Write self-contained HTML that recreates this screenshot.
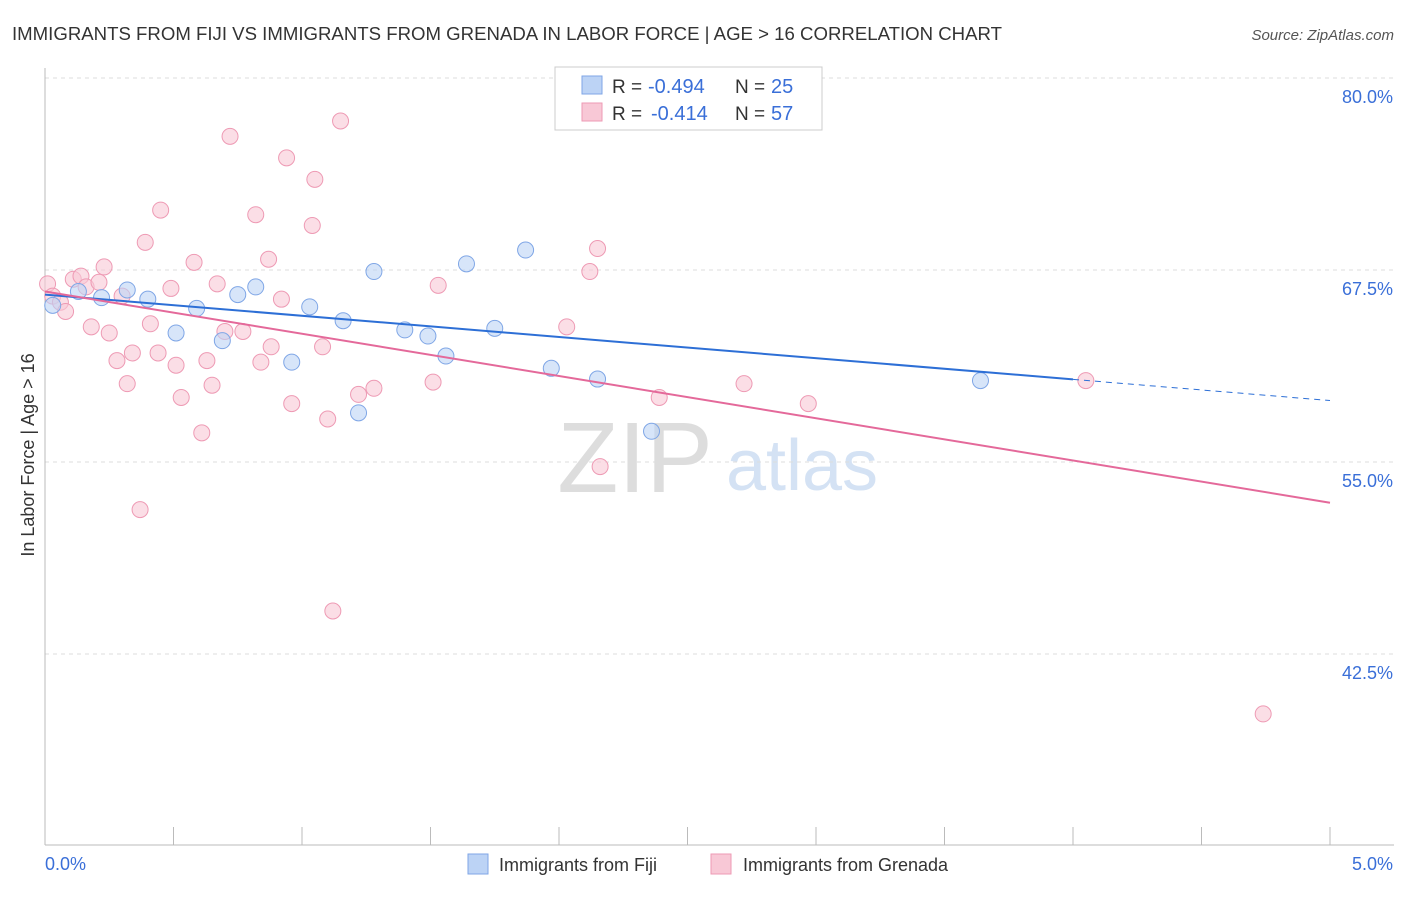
<!DOCTYPE html>
<html><head><meta charset="utf-8"><style>
body{margin:0;background:#fff;font-family:"Liberation Sans",sans-serif;}
svg text{font-family:"Liberation Sans",sans-serif;}
</style></head><body>
<svg id="chart" width="1406" height="892" xmlns="http://www.w3.org/2000/svg">
<text x="12" y="40" font-size="18" fill="#333" textLength="990" lengthAdjust="spacingAndGlyphs">IMMIGRANTS FROM FIJI VS IMMIGRANTS FROM GRENADA IN LABOR FORCE | AGE &gt; 16 CORRELATION CHART</text>
<text x="1394" y="40" font-size="15" fill="#555" font-style="italic" text-anchor="end">Source: ZipAtlas.com</text>
<text x="635" y="492" font-size="100" fill="#ddd" font-family="Liberation Serif,serif" text-anchor="middle">ZIP</text>
<text x="802" y="490" font-size="72" fill="#d4e2f4" text-anchor="middle">atlas</text>
<g id="grid"></g><g id="axes"></g><g id="marks"></g>
<text transform="translate(34,455) rotate(-90)" font-size="18" fill="#333" text-anchor="middle">In Labor Force | Age &gt; 16</text>
<text x="45" y="870" font-size="18" fill="#3a6fd8">0.0%</text>
<text x="1393" y="870" font-size="18" fill="#3a6fd8" text-anchor="end">5.0%</text>
<g>
<rect x="555" y="67" width="267" height="63" fill="#fff" stroke="#ccc"/>
<rect x="582" y="76" width="20" height="18" fill="#bcd3f5" stroke="#7fa6e6"/>
<text x="612" y="93" font-size="19" fill="#333">R =</text>
<text x="648" y="93" font-size="20" fill="#3a6fd8">-0.494</text>
<text x="735" y="93" font-size="19" fill="#333">N =</text>
<text x="771" y="93" font-size="20" fill="#3a6fd8">25</text>
<rect x="582" y="103" width="20" height="18" fill="#f8c8d6" stroke="#ee9ab4"/>
<text x="612" y="120" font-size="19" fill="#333">R =</text>
<text x="651" y="120" font-size="20" fill="#3a6fd8">-0.414</text>
<text x="735" y="120" font-size="19" fill="#333">N =</text>
<text x="771" y="120" font-size="20" fill="#3a6fd8">57</text>
</g>
<g>
<rect x="468" y="854" width="20" height="20" fill="#bcd3f5" stroke="#7fa6e6"/>
<text x="499" y="871" font-size="18" fill="#333">Immigrants from Fiji</text>
<rect x="711" y="854" width="20" height="20" fill="#f8c8d6" stroke="#ee9ab4"/>
<text x="743" y="871" font-size="18" fill="#333">Immigrants from Grenada</text>
</g>
</svg>
<script>
const yTicks=[80,67.5,55,42.5];
const xTicks=[0,0.5,1,1.5,2,2.5,3,3.5,4,4.5,5];
const fijiX=[0.03,0.13,0.22,0.32,0.40,0.51,0.59,0.69,0.75,0.82,0.96,1.03,1.16,1.22,1.28,1.40,1.49,1.56,1.64,1.75,1.87,1.97,2.15,2.36,3.64];
const fijiY=[65.2,66.1,65.7,66.2,65.6,63.4,65.0,62.9,65.9,66.4,61.5,65.1,64.2,58.2,67.4,63.6,63.2,61.9,67.9,63.7,68.8,61.1,60.4,57.0,60.3];
const grenX=[0.01,0.03,0.06,0.08,0.11,0.14,0.16,0.18,0.21,0.23,0.25,0.28,0.30,0.32,0.34,0.37,0.39,0.41,0.44,0.45,0.49,0.51,0.53,0.58,0.61,0.63,0.65,0.67,0.70,0.72,0.77,0.82,0.84,0.87,0.88,0.92,0.94,0.96,1.04,1.05,1.08,1.10,1.12,1.15,1.22,1.28,1.51,1.53,2.03,2.12,2.15,2.16,2.39,2.72,2.97,4.05,4.74];
const grenY=[66.6,65.8,65.4,64.8,66.9,67.1,66.4,63.8,66.7,67.7,63.4,61.6,65.8,60.1,62.1,51.9,69.3,64.0,62.1,71.4,66.3,61.3,59.2,68.0,56.9,61.6,60.0,66.6,63.5,76.2,63.5,71.1,61.5,68.2,62.5,65.6,74.8,58.8,70.4,73.4,62.5,57.8,45.3,77.2,59.4,59.8,60.2,66.5,63.8,67.4,68.9,54.7,59.2,60.1,58.8,60.3,38.6];
const fijiFit=[65.9,-1.38];
const grenFit=[66.1,-2.75];
const X=v=>45+v*257, Y=v=>78+(80-v)*15.36;
const NS="http://www.w3.org/2000/svg";
function mk(tag,attrs,parent){const e=document.createElementNS(NS,tag);for(const k in attrs)e.setAttribute(k,attrs[k]);document.getElementById(parent).appendChild(e);return e;}
yTicks.forEach(t=>{
 const l=mk('line',{x1:45,x2:1394,y1:Y(t),y2:Y(t),stroke:'#ddd','stroke-dasharray':'4,4'},'grid');
 
 
 const tx=mk('text',{x:1393,y:Y(t)+25,'font-size':18,fill:'#3a6fd8','text-anchor':'end'},'grid');tx.textContent=t.toFixed(1)+'%';
 
 
});
const ax=mk('line',{x1:45,x2:1394,y1:845,y2:845,stroke:'#bbb'},'axes');


const ay=mk('line',{x1:45,x2:45,y1:68,y2:845,stroke:'#bbb'},'axes');


xTicks.forEach(t=>{const l=mk('line',{x1:X(t),x2:X(t),y1:827,y2:845,stroke:'#bbb'},'axes');
 
 });
function dots(xs,ys,fill,stroke,name){xs.forEach((x,i)=>{const c=mk('circle',{cx:X(x),cy:Y(ys[i]),r:8,fill:fill,'fill-opacity':0.6,stroke:stroke,'stroke-width':1},'marks');
 
 });}
dots(grenX,grenY,'#f8c8d6','#ee9ab4','grenada-point');
dots(fijiX,fijiY,'#bcd3f5','#7fa6e6','fiji-point');
const f=x=>fijiFit[0]+fijiFit[1]*x, g=x=>grenFit[0]+grenFit[1]*x;
const l1=mk('line',{x1:X(0),y1:Y(f(0)),x2:X(4),y2:Y(f(4)),stroke:'#2d6fd6','stroke-width':2},'marks');


const l2=mk('line',{x1:X(4),y1:Y(f(4)),x2:X(5),y2:Y(f(5)),stroke:'#2d6fd6','stroke-width':1,'stroke-dasharray':'6,5'},'marks');


const l3=mk('line',{x1:X(0),y1:Y(g(0)),x2:X(5),y2:Y(g(5)),stroke:'#e4699a','stroke-width':2},'marks');


</script>
</body></html>
